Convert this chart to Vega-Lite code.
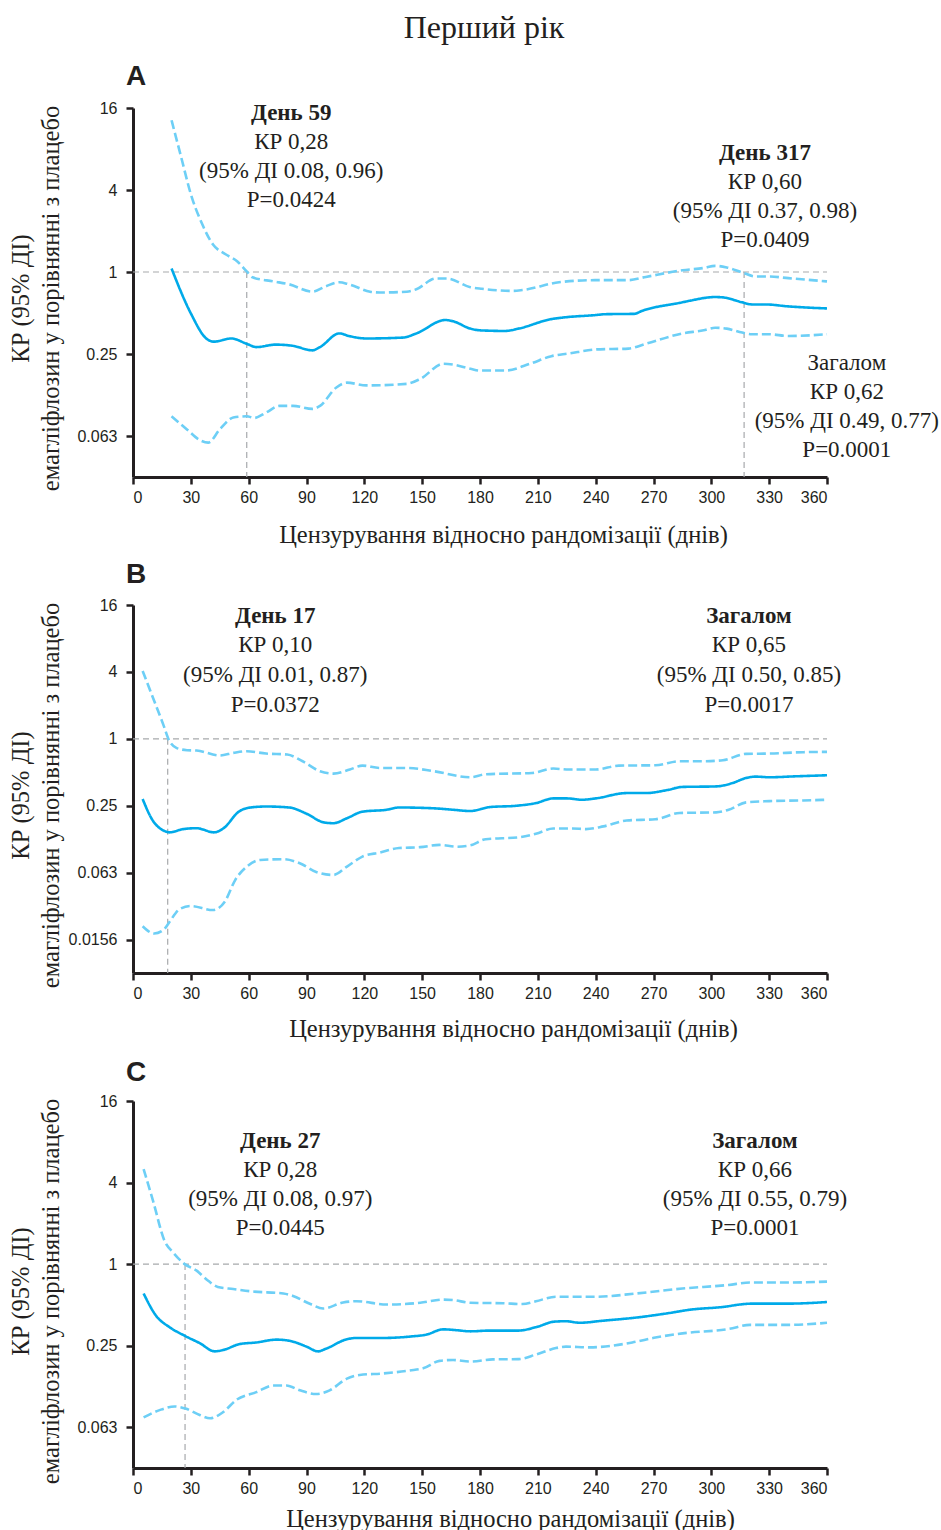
{
"$schema": "https://vega.github.io/schema/vega-lite/v6.json",
"padding": {"left": 7, "top": 12, "right": 0, "bottom": 0},
"title": {"text": "Перший рік", "font": "Liberation Serif", "fontSize": 32, "fontWeight": "normal", "anchor": "middle", "color": "#231f20", "offset": 18, "frame": "group", "dx": 4},
"config": {
  "view": {"stroke": null},
  "axis": {"grid": false, "domainColor": "#231f20", "domainWidth": 3, "tickColor": "#231f20", "tickWidth": 2.5, "tickSize": 7, "labelFont": "Liberation Sans", "labelFontSize": 16, "labelColor": "#231f20", "titleFont": "Liberation Serif", "titleFontSize": 24.5, "titleFontWeight": "normal", "titleColor": "#231f20"},
  "axisY": {"titleX": -105, "titleY": 190, "titleBaseline": "alphabetic", "titleLineHeight": 30, "labelPadding": 9, "titleAngle": -90, "titleAlign": "center"},
  "axisX": {"titleBaseline": "alphabetic", "labelPadding": 5, "titleAlign": "center"},
  "title": {"font": "Liberation Sans", "fontSize": 28, "fontWeight": "bold", "anchor": "start", "color": "#231f20", "frame": "group"},
  "text": {"font": "Liberation Serif", "fontSize": 23, "color": "#231f20", "align": "center", "baseline": "middle"}
},
"spacing": 128,
"bounds": "flush",
"vconcat": [
  {
    "width": 694, "height": 369,
    "title": {"text": "A", "dx": -7, "offset": 9},
    "encoding": {
      "x": {"field": "d", "type": "quantitative", "scale": {"domain": [0, 360], "nice": false, "zero": false}, "axis": {"values": [0,30,60,90,120,150,180,210,240,270,300,330,360], "title": "Цензурування відносно рандомізації (днів)", "titleX": 370, "titleY": 65}},
      "y": {"field": "v", "type": "quantitative", "scale": {"type": "log", "base": 2, "domain": [0.03125, 16], "nice": false}, "axis": {"values": [16, 4, 1, 0.25, 0.0625], "labelExpr": "datum.value == 0.0625 ? '0.063' : datum.value == 0.015625 ? '0.0156' : datum.value == 0.25 ? '0.25' : format(datum.value, 'd')", "title": ["КР (95% ДІ)", "емагліфлозин у порівнянні з плацебо"]}}
    },
    "layer": [
      {"data": {"name": "refs"}, "transform": [{"filter": "datum.p == 'A'"}], "mark": {"type": "rule", "color": "#a7a9ac", "strokeWidth": 1.2, "strokeDash": [6, 4]}, "encoding": {"x2": {"field": "d2"}, "y2": {"field": "v2"}}},
      {"data": {"name": "A"}, "mark": {"type": "line", "interpolate": "monotone", "strokeWidth": 2.6}, "encoding": {
        "color": {"field": "s", "type": "nominal", "scale": {"domain": ["hr", "lo", "hi"], "range": ["#00aae9", "#6dcff6", "#6dcff6"]}, "legend": null},
        "strokeDash": {"field": "s", "type": "nominal", "scale": {"domain": ["hr", "lo", "hi"], "range": [[1, 0], [9, 4], [9, 4]]}, "legend": null}}},
      {"data": {"name": "ann"}, "transform": [{"filter": "datum.p == 'A' && datum.k == 'day'"}], "mark": {"type": "text", "fontWeight": "bold"}, "encoding": {"text": {"field": "l1"}}},
      {"data": {"name": "ann"}, "transform": [{"filter": "datum.p == 'A' && datum.k == 'all'"}], "mark": {"type": "text"}, "encoding": {"text": {"field": "l1"}}},
      {"data": {"name": "ann"}, "transform": [{"filter": "datum.p == 'A'"}], "mark": {"type": "text", "dy": 29}, "encoding": {"text": {"field": "l2"}}},
      {"data": {"name": "ann"}, "transform": [{"filter": "datum.p == 'A'"}], "mark": {"type": "text", "dy": 58}, "encoding": {"text": {"field": "l3"}}},
      {"data": {"name": "ann"}, "transform": [{"filter": "datum.p == 'A'"}], "mark": {"type": "text", "dy": 87}, "encoding": {"text": {"field": "l4"}}}
    ]
  },
  {
    "width": 694, "height": 368,
    "title": {"text": "B", "dx": -7, "offset": 8},
    "encoding": {
      "x": {"field": "d", "type": "quantitative", "scale": {"domain": [0, 360], "nice": false, "zero": false}, "axis": {"values": [0,30,60,90,120,150,180,210,240,270,300,330,360], "title": "Цензурування відносно рандомізації (днів)", "titleX": 380, "titleY": 63}},
      "y": {"field": "v", "type": "quantitative", "scale": {"type": "log", "base": 2, "domain": [0.0078125, 16], "nice": false}, "axis": {"values": [16, 4, 1, 0.25, 0.0625, 0.015625], "labelExpr": "datum.value == 0.0625 ? '0.063' : datum.value == 0.015625 ? '0.0156' : datum.value == 0.25 ? '0.25' : format(datum.value, 'd')", "title": ["КР (95% ДІ)", "емагліфлозин у порівнянні з плацебо"]}}
    },
    "layer": [
      {"data": {"name": "refs"}, "transform": [{"filter": "datum.p == 'B'"}], "mark": {"type": "rule", "color": "#a7a9ac", "strokeWidth": 1.2, "strokeDash": [6, 4]}, "encoding": {"x2": {"field": "d2"}, "y2": {"field": "v2"}}},
      {"data": {"name": "B"}, "mark": {"type": "line", "interpolate": "monotone", "strokeWidth": 2.6}, "encoding": {
        "color": {"field": "s", "type": "nominal", "scale": {"domain": ["hr", "lo", "hi"], "range": ["#00aae9", "#6dcff6", "#6dcff6"]}, "legend": null},
        "strokeDash": {"field": "s", "type": "nominal", "scale": {"domain": ["hr", "lo", "hi"], "range": [[1, 0], [9, 4], [9, 4]]}, "legend": null}}},
      {"data": {"name": "ann"}, "transform": [{"filter": "datum.p == 'B'"}], "mark": {"type": "text", "fontWeight": "bold"}, "encoding": {"text": {"field": "l1"}}},
      {"data": {"name": "ann"}, "transform": [{"filter": "datum.p == 'B'"}], "mark": {"type": "text", "dy": 29.5}, "encoding": {"text": {"field": "l2"}}},
      {"data": {"name": "ann"}, "transform": [{"filter": "datum.p == 'B'"}], "mark": {"type": "text", "dy": 59}, "encoding": {"text": {"field": "l3"}}},
      {"data": {"name": "ann"}, "transform": [{"filter": "datum.p == 'B'"}], "mark": {"type": "text", "dy": 89}, "encoding": {"text": {"field": "l4"}}}
    ]
  },
  {
    "width": 694, "height": 367,
    "title": {"text": "C", "dx": -7, "offset": 6},
    "encoding": {
      "x": {"field": "d", "type": "quantitative", "scale": {"domain": [0, 360], "nice": false, "zero": false}, "axis": {"values": [0,30,60,90,120,150,180,210,240,270,300,330,360], "title": "Цензурування відносно рандомізації (днів)", "titleX": 377, "titleY": 58}},
      "y": {"field": "v", "type": "quantitative", "scale": {"type": "log", "base": 2, "domain": [0.03125, 16], "nice": false}, "axis": {"values": [16, 4, 1, 0.25, 0.0625], "labelExpr": "datum.value == 0.0625 ? '0.063' : datum.value == 0.015625 ? '0.0156' : datum.value == 0.25 ? '0.25' : format(datum.value, 'd')", "title": ["КР (95% ДІ)", "емагліфлозин у порівнянні з плацебо"]}}
    },
    "layer": [
      {"data": {"name": "refs"}, "transform": [{"filter": "datum.p == 'C'"}], "mark": {"type": "rule", "color": "#a7a9ac", "strokeWidth": 1.2, "strokeDash": [6, 4]}, "encoding": {"x2": {"field": "d2"}, "y2": {"field": "v2"}}},
      {"data": {"name": "C"}, "mark": {"type": "line", "interpolate": "monotone", "strokeWidth": 2.6}, "encoding": {
        "color": {"field": "s", "type": "nominal", "scale": {"domain": ["hr", "lo", "hi"], "range": ["#00aae9", "#6dcff6", "#6dcff6"]}, "legend": null},
        "strokeDash": {"field": "s", "type": "nominal", "scale": {"domain": ["hr", "lo", "hi"], "range": [[1, 0], [9, 4], [9, 4]]}, "legend": null}}},
      {"data": {"name": "ann"}, "transform": [{"filter": "datum.p == 'C'"}], "mark": {"type": "text", "fontWeight": "bold"}, "encoding": {"text": {"field": "l1"}}},
      {"data": {"name": "ann"}, "transform": [{"filter": "datum.p == 'C'"}], "mark": {"type": "text", "dy": 29}, "encoding": {"text": {"field": "l2"}}},
      {"data": {"name": "ann"}, "transform": [{"filter": "datum.p == 'C'"}], "mark": {"type": "text", "dy": 58}, "encoding": {"text": {"field": "l3"}}},
      {"data": {"name": "ann"}, "transform": [{"filter": "datum.p == 'C'"}], "mark": {"type": "text", "dy": 87}, "encoding": {"text": {"field": "l4"}}}
    ]
  }
],
"datasets": {
  "refs": [
    {"p": "A", "d": 0, "d2": 360, "v": 1, "v2": 1},
    {"p": "A", "d": 59, "d2": 59, "v": 1, "v2": 0.03125},
    {"p": "A", "d": 317, "d2": 317, "v": 1, "v2": 0.03125},
    {"p": "B", "d": 0, "d2": 360, "v": 1, "v2": 1},
    {"p": "B", "d": 18, "d2": 18, "v": 1, "v2": 0.0078125},
    {"p": "C", "d": 0, "d2": 360, "v": 1, "v2": 1},
    {"p": "C", "d": 27, "d2": 27, "v": 1, "v2": 0.03125}
  ],
  "ann": [
    {"p": "A", "k": "day", "d": 82.1, "v": 14.72, "l1": "День 59", "l2": "КР 0,28", "l3": "(95% ДІ 0.08, 0.96)", "l4": "P=0.0424"},
    {"p": "A", "k": "day", "d": 327.8, "v": 7.47, "l1": "День 317", "l2": "КР 0,60", "l3": "(95% ДІ 0.37, 0.98)", "l4": "P=0.0409"},
    {"p": "A", "k": "all", "d": 370.3, "v": 0.213, "l1": "Загалом", "l2": "КР 0,62", "l3": "(95% ДІ 0.49, 0.77)", "l4": "P=0.0001"},
    {"p": "B", "k": "day", "d": 73.8, "v": 12.79, "l1": "День 17", "l2": "КР 0,10", "l3": "(95% ДІ 0.01, 0.87)", "l4": "P=0.0372"},
    {"p": "B", "k": "all", "d": 319.5, "v": 12.79, "l1": "Загалом", "l2": "КР 0,65", "l3": "(95% ДІ 0.50, 0.85)", "l4": "P=0.0017"},
    {"p": "C", "k": "day", "d": 76.4, "v": 8.05, "l1": "День 27", "l2": "КР 0,28", "l3": "(95% ДІ 0.08, 0.97)", "l4": "P=0.0445"},
    {"p": "C", "k": "all", "d": 322.6, "v": 8.05, "l1": "Загалом", "l2": "КР 0,66", "l3": "(95% ДІ 0.55, 0.79)", "l4": "P=0.0001"}
  ],
  "A": [
    {"s":"hr","d":20,"v":1.06},{"s":"hr","d":30,"v":0.497},{"s":"hr","d":38,"v":0.325},{"s":"hr","d":42,"v":0.308},{"s":"hr","d":51,"v":0.325},{"s":"hr","d":59,"v":0.297},{"s":"hr","d":64,"v":0.281},{"s":"hr","d":74,"v":0.293},{"s":"hr","d":83,"v":0.287},{"s":"hr","d":93,"v":0.266},{"s":"hr","d":97,"v":0.281},{"s":"hr","d":107,"v":0.354},{"s":"hr","d":112,"v":0.339},{"s":"hr","d":121,"v":0.325},{"s":"hr","d":140,"v":0.330},{"s":"hr","d":147,"v":0.354},{"s":"hr","d":162,"v":0.444},{"s":"hr","d":166,"v":0.435},{"s":"hr","d":175,"v":0.384},{"s":"hr","d":180,"v":0.373},{"s":"hr","d":193,"v":0.369},{"s":"hr","d":200,"v":0.384},{"s":"hr","d":217,"v":0.451},{"s":"hr","d":223,"v":0.463},{"s":"hr","d":240,"v":0.483},{"s":"hr","d":245,"v":0.490},{"s":"hr","d":260,"v":0.493},{"s":"hr","d":264,"v":0.518},{"s":"hr","d":285,"v":0.599},{"s":"hr","d":289,"v":0.616},{"s":"hr","d":302,"v":0.655},{"s":"hr","d":306,"v":0.651},{"s":"hr","d":316,"v":0.599},{"s":"hr","d":321,"v":0.578},{"s":"hr","d":328,"v":0.578},{"s":"hr","d":340,"v":0.559},{"s":"hr","d":347,"v":0.551},{"s":"hr","d":360,"v":0.540},
    {"s":"hi","d":20,"v":13.0},{"s":"hi","d":25,"v":6.96},{"s":"hi","d":30,"v":3.73},{"s":"hi","d":36,"v":2.23},{"s":"hi","d":41.5,"v":1.59},{"s":"hi","d":48,"v":1.35},{"s":"hi","d":54,"v":1.20},{"s":"hi","d":59,"v":1.01},{"s":"hi","d":62,"v":0.914},{"s":"hi","d":73,"v":0.853},{"s":"hi","d":81,"v":0.812},{"s":"hi","d":93,"v":0.717},{"s":"hi","d":100,"v":0.785},{"s":"hi","d":107,"v":0.841},{"s":"hi","d":112,"v":0.812},{"s":"hi","d":123,"v":0.717},{"s":"hi","d":128,"v":0.707},{"s":"hi","d":142,"v":0.717},{"s":"hi","d":147,"v":0.747},{"s":"hi","d":157,"v":0.895},{"s":"hi","d":163,"v":0.895},{"s":"hi","d":175,"v":0.774},{"s":"hi","d":181,"v":0.753},{"s":"hi","d":197,"v":0.727},{"s":"hi","d":202,"v":0.737},{"s":"hi","d":221,"v":0.841},{"s":"hi","d":240,"v":0.871},{"s":"hi","d":257,"v":0.871},{"s":"hi","d":266,"v":0.920},{"s":"hi","d":285,"v":1.03},{"s":"hi","d":296,"v":1.07},{"s":"hi","d":302,"v":1.11},{"s":"hi","d":308,"v":1.08},{"s":"hi","d":316,"v":0.993},{"s":"hi","d":323,"v":0.927},{"s":"hi","d":330,"v":0.927},{"s":"hi","d":340,"v":0.901},{"s":"hi","d":360,"v":0.853},
    {"s":"lo","d":20,"v":0.0872},{"s":"lo","d":28,"v":0.0698},{"s":"lo","d":35,"v":0.0580},{"s":"lo","d":39,"v":0.0559},{"s":"lo","d":45,"v":0.0698},{"s":"lo","d":52,"v":0.0854},{"s":"lo","d":59,"v":0.0872},{"s":"lo","d":63,"v":0.0848},{"s":"lo","d":69,"v":0.0928},{"s":"lo","d":76,"v":0.104},{"s":"lo","d":83,"v":0.104},{"s":"lo","d":93,"v":0.0988},{"s":"lo","d":97,"v":0.104},{"s":"lo","d":105.5,"v":0.142},{"s":"lo","d":111,"v":0.154},{"s":"lo","d":121,"v":0.147},{"s":"lo","d":142,"v":0.151},{"s":"lo","d":149,"v":0.164},{"s":"lo","d":161,"v":0.212},{"s":"lo","d":166,"v":0.209},{"s":"lo","d":175,"v":0.195},{"s":"lo","d":180,"v":0.189},{"s":"lo","d":193,"v":0.189},{"s":"lo","d":206,"v":0.212},{"s":"lo","d":217,"v":0.241},{"s":"lo","d":226,"v":0.252},{"s":"lo","d":240,"v":0.270},{"s":"lo","d":257,"v":0.274},{"s":"lo","d":266,"v":0.297},{"s":"lo","d":285,"v":0.354},{"s":"lo","d":296,"v":0.373},{"s":"lo","d":302,"v":0.390},{"s":"lo","d":308,"v":0.384},{"s":"lo","d":316,"v":0.359},{"s":"lo","d":321,"v":0.349},{"s":"lo","d":330,"v":0.349},{"s":"lo","d":340,"v":0.339},{"s":"lo","d":360,"v":0.349}
  ],
  "B": [
    {"s":"hr","d":5,"v":0.287},{"s":"hr","d":10,"v":0.187},{"s":"hr","d":16,"v":0.149},{"s":"hr","d":19,"v":0.144},{"s":"hr","d":26,"v":0.154},{"s":"hr","d":33,"v":0.157},{"s":"hr","d":42,"v":0.144},{"s":"hr","d":47,"v":0.157},{"s":"hr","d":55,"v":0.222},{"s":"hr","d":61,"v":0.241},{"s":"hr","d":69,"v":0.246},{"s":"hr","d":81,"v":0.241},{"s":"hr","d":90,"v":0.212},{"s":"hr","d":99,"v":0.177},{"s":"hr","d":104,"v":0.174},{"s":"hr","d":111,"v":0.193},{"s":"hr","d":119,"v":0.221},{"s":"hr","d":131.5,"v":0.230},{"s":"hr","d":138,"v":0.241},{"s":"hr","d":156,"v":0.237},{"s":"hr","d":166,"v":0.230},{"s":"hr","d":175,"v":0.224},{"s":"hr","d":185,"v":0.243},{"s":"hr","d":199,"v":0.25},{"s":"hr","d":209,"v":0.264},{"s":"hr","d":218,"v":0.291},{"s":"hr","d":225,"v":0.291},{"s":"hr","d":233,"v":0.283},{"s":"hr","d":240,"v":0.291},{"s":"hr","d":256,"v":0.325},{"s":"hr","d":266,"v":0.325},{"s":"hr","d":276.5,"v":0.344},{"s":"hr","d":285,"v":0.369},{"s":"hr","d":302.5,"v":0.373},{"s":"hr","d":311,"v":0.400},{"s":"hr","d":318,"v":0.444},{"s":"hr","d":323,"v":0.457},{"s":"hr","d":330,"v":0.451},{"s":"hr","d":344,"v":0.460},{"s":"hr","d":360,"v":0.470},
    {"s":"hi","d":5,"v":4.08},{"s":"hi","d":10,"v":2.43},{"s":"hi","d":16,"v":1.30},{"s":"hi","d":18.5,"v":0.986},{"s":"hi","d":22.5,"v":0.829},{"s":"hi","d":28,"v":0.790},{"s":"hi","d":33,"v":0.785},{"s":"hi","d":45,"v":0.707},{"s":"hi","d":52,"v":0.747},{"s":"hi","d":59,"v":0.774},{"s":"hi","d":69,"v":0.737},{"s":"hi","d":80,"v":0.722},{"s":"hi","d":88,"v":0.628},{"s":"hi","d":97,"v":0.511},{"s":"hi","d":104,"v":0.486},{"s":"hi","d":112.5,"v":0.529},{"s":"hi","d":119,"v":0.574},{"s":"hi","d":128,"v":0.547},{"s":"hi","d":142,"v":0.547},{"s":"hi","d":156,"v":0.511},{"s":"hi","d":175,"v":0.451},{"s":"hi","d":183,"v":0.480},{"s":"hi","d":207,"v":0.493},{"s":"hi","d":218,"v":0.540},{"s":"hi","d":226,"v":0.529},{"s":"hi","d":240,"v":0.529},{"s":"hi","d":252,"v":0.574},{"s":"hi","d":271,"v":0.578},{"s":"hi","d":283.5,"v":0.628},{"s":"hi","d":296,"v":0.628},{"s":"hi","d":306,"v":0.642},{"s":"hi","d":318,"v":0.732},{"s":"hi","d":330,"v":0.737},{"s":"hi","d":347.5,"v":0.758},{"s":"hi","d":360,"v":0.763},
    {"s":"lo","d":5,"v":0.0206},{"s":"lo","d":11,"v":0.0177},{"s":"lo","d":16,"v":0.0192},{"s":"lo","d":19,"v":0.0226},{"s":"lo","d":24,"v":0.0292},{"s":"lo","d":30,"v":0.0313},{"s":"lo","d":41.5,"v":0.0288},{"s":"lo","d":47.6,"v":0.0342},{"s":"lo","d":53,"v":0.0536},{"s":"lo","d":59,"v":0.0708},{"s":"lo","d":66,"v":0.0813},{"s":"lo","d":78,"v":0.0825},{"s":"lo","d":86.5,"v":0.0759},{"s":"lo","d":95,"v":0.0634},{"s":"lo","d":104,"v":0.0596},{"s":"lo","d":111,"v":0.0708},{"s":"lo","d":119,"v":0.0872},{"s":"lo","d":128,"v":0.0947},{"s":"lo","d":138,"v":0.104},{"s":"lo","d":149,"v":0.106},{"s":"lo","d":159,"v":0.111},{"s":"lo","d":168,"v":0.107},{"s":"lo","d":175,"v":0.110},{"s":"lo","d":183,"v":0.125},{"s":"lo","d":200,"v":0.130},{"s":"lo","d":209,"v":0.140},{"s":"lo","d":218,"v":0.156},{"s":"lo","d":228,"v":0.156},{"s":"lo","d":235,"v":0.154},{"s":"lo","d":244,"v":0.163},{"s":"lo","d":256,"v":0.184},{"s":"lo","d":271,"v":0.189},{"s":"lo","d":283.5,"v":0.215},{"s":"lo","d":302.5,"v":0.218},{"s":"lo","d":309,"v":0.230},{"s":"lo","d":318,"v":0.268},{"s":"lo","d":330,"v":0.275},{"s":"lo","d":347.5,"v":0.279},{"s":"lo","d":360,"v":0.283}
  ],
  "C": [
    {"s":"hr","d":5.5,"v":0.607},{"s":"hr","d":12,"v":0.415},{"s":"hr","d":19,"v":0.342},{"s":"hr","d":27,"v":0.295},{"s":"hr","d":34.6,"v":0.261},{"s":"hr","d":42.4,"v":0.227},{"s":"hr","d":46.7,"v":0.232},{"s":"hr","d":55.4,"v":0.257},{"s":"hr","d":64,"v":0.264},{"s":"hr","d":74.4,"v":0.277},{"s":"hr","d":81,"v":0.272},{"s":"hr","d":90,"v":0.246},{"s":"hr","d":96,"v":0.227},{"s":"hr","d":100,"v":0.237},{"s":"hr","d":111,"v":0.279},{"s":"hr","d":116,"v":0.285},{"s":"hr","d":130,"v":0.285},{"s":"hr","d":145,"v":0.293},{"s":"hr","d":152,"v":0.301},{"s":"hr","d":161,"v":0.330},{"s":"hr","d":168,"v":0.325},{"s":"hr","d":175,"v":0.319},{"s":"hr","d":185,"v":0.323},{"s":"hr","d":200,"v":0.323},{"s":"hr","d":209,"v":0.342},{"s":"hr","d":218.6,"v":0.376},{"s":"hr","d":224.6,"v":0.379},{"s":"hr","d":231.6,"v":0.369},{"s":"hr","d":243.7,"v":0.382},{"s":"hr","d":261,"v":0.403},{"s":"hr","d":278,"v":0.435},{"s":"hr","d":288.6,"v":0.460},{"s":"hr","d":307.7,"v":0.486},{"s":"hr","d":314.6,"v":0.503},{"s":"hr","d":321.5,"v":0.511},{"s":"hr","d":340.5,"v":0.511},{"s":"hr","d":360,"v":0.525},
    {"s":"hi","d":5.5,"v":5.03},{"s":"hi","d":10.4,"v":2.93},{"s":"hi","d":16.4,"v":1.48},{"s":"hi","d":20.8,"v":1.22},{"s":"hi","d":26.8,"v":1.00},{"s":"hi","d":33,"v":0.895},{"s":"hi","d":39,"v":0.753},{"s":"hi","d":44,"v":0.678},{"s":"hi","d":52,"v":0.655},{"s":"hi","d":62,"v":0.628},{"s":"hi","d":78,"v":0.607},{"s":"hi","d":83,"v":0.582},{"s":"hi","d":92,"v":0.507},{"s":"hi","d":98.6,"v":0.470},{"s":"hi","d":109,"v":0.521},{"s":"hi","d":116,"v":0.532},{"s":"hi","d":131.5,"v":0.503},{"s":"hi","d":149,"v":0.518},{"s":"hi","d":161,"v":0.547},{"s":"hi","d":166,"v":0.543},{"s":"hi","d":175,"v":0.518},{"s":"hi","d":192,"v":0.514},{"s":"hi","d":202,"v":0.507},{"s":"hi","d":209,"v":0.532},{"s":"hi","d":219.4,"v":0.574},{"s":"hi","d":240,"v":0.574},{"s":"hi","d":261,"v":0.607},{"s":"hi","d":285,"v":0.660},{"s":"hi","d":309,"v":0.702},{"s":"hi","d":320,"v":0.732},{"s":"hi","d":340.5,"v":0.732},{"s":"hi","d":360,"v":0.743},
    {"s":"lo","d":5.5,"v":0.0738},{"s":"lo","d":13.8,"v":0.0836},{"s":"lo","d":21.6,"v":0.0890},{"s":"lo","d":27.7,"v":0.0854},{"s":"lo","d":34.6,"v":0.0770},{"s":"lo","d":40,"v":0.0728},{"s":"lo","d":46.7,"v":0.0807},{"s":"lo","d":53.6,"v":0.0994},{"s":"lo","d":64,"v":0.1135},{"s":"lo","d":72.7,"v":0.127},{"s":"lo","d":79.6,"v":0.127},{"s":"lo","d":86.5,"v":0.117},{"s":"lo","d":95,"v":0.110},{"s":"lo","d":102,"v":0.117},{"s":"lo","d":110.7,"v":0.142},{"s":"lo","d":117.6,"v":0.152},{"s":"lo","d":130,"v":0.156},{"s":"lo","d":143.6,"v":0.164},{"s":"lo","d":150.5,"v":0.170},{"s":"lo","d":159,"v":0.193},{"s":"lo","d":166,"v":0.196},{"s":"lo","d":175,"v":0.191},{"s":"lo","d":186.6,"v":0.198},{"s":"lo","d":200,"v":0.199},{"s":"lo","d":209,"v":0.215},{"s":"lo","d":219.4,"v":0.240},{"s":"lo","d":224.6,"v":0.246},{"s":"lo","d":236.7,"v":0.243},{"s":"lo","d":259,"v":0.264},{"s":"lo","d":271,"v":0.287},{"s":"lo","d":285,"v":0.308},{"s":"lo","d":309,"v":0.332},{"s":"lo","d":320,"v":0.356},{"s":"lo","d":340.5,"v":0.356},{"s":"lo","d":360,"v":0.369}
  ]
}
}
